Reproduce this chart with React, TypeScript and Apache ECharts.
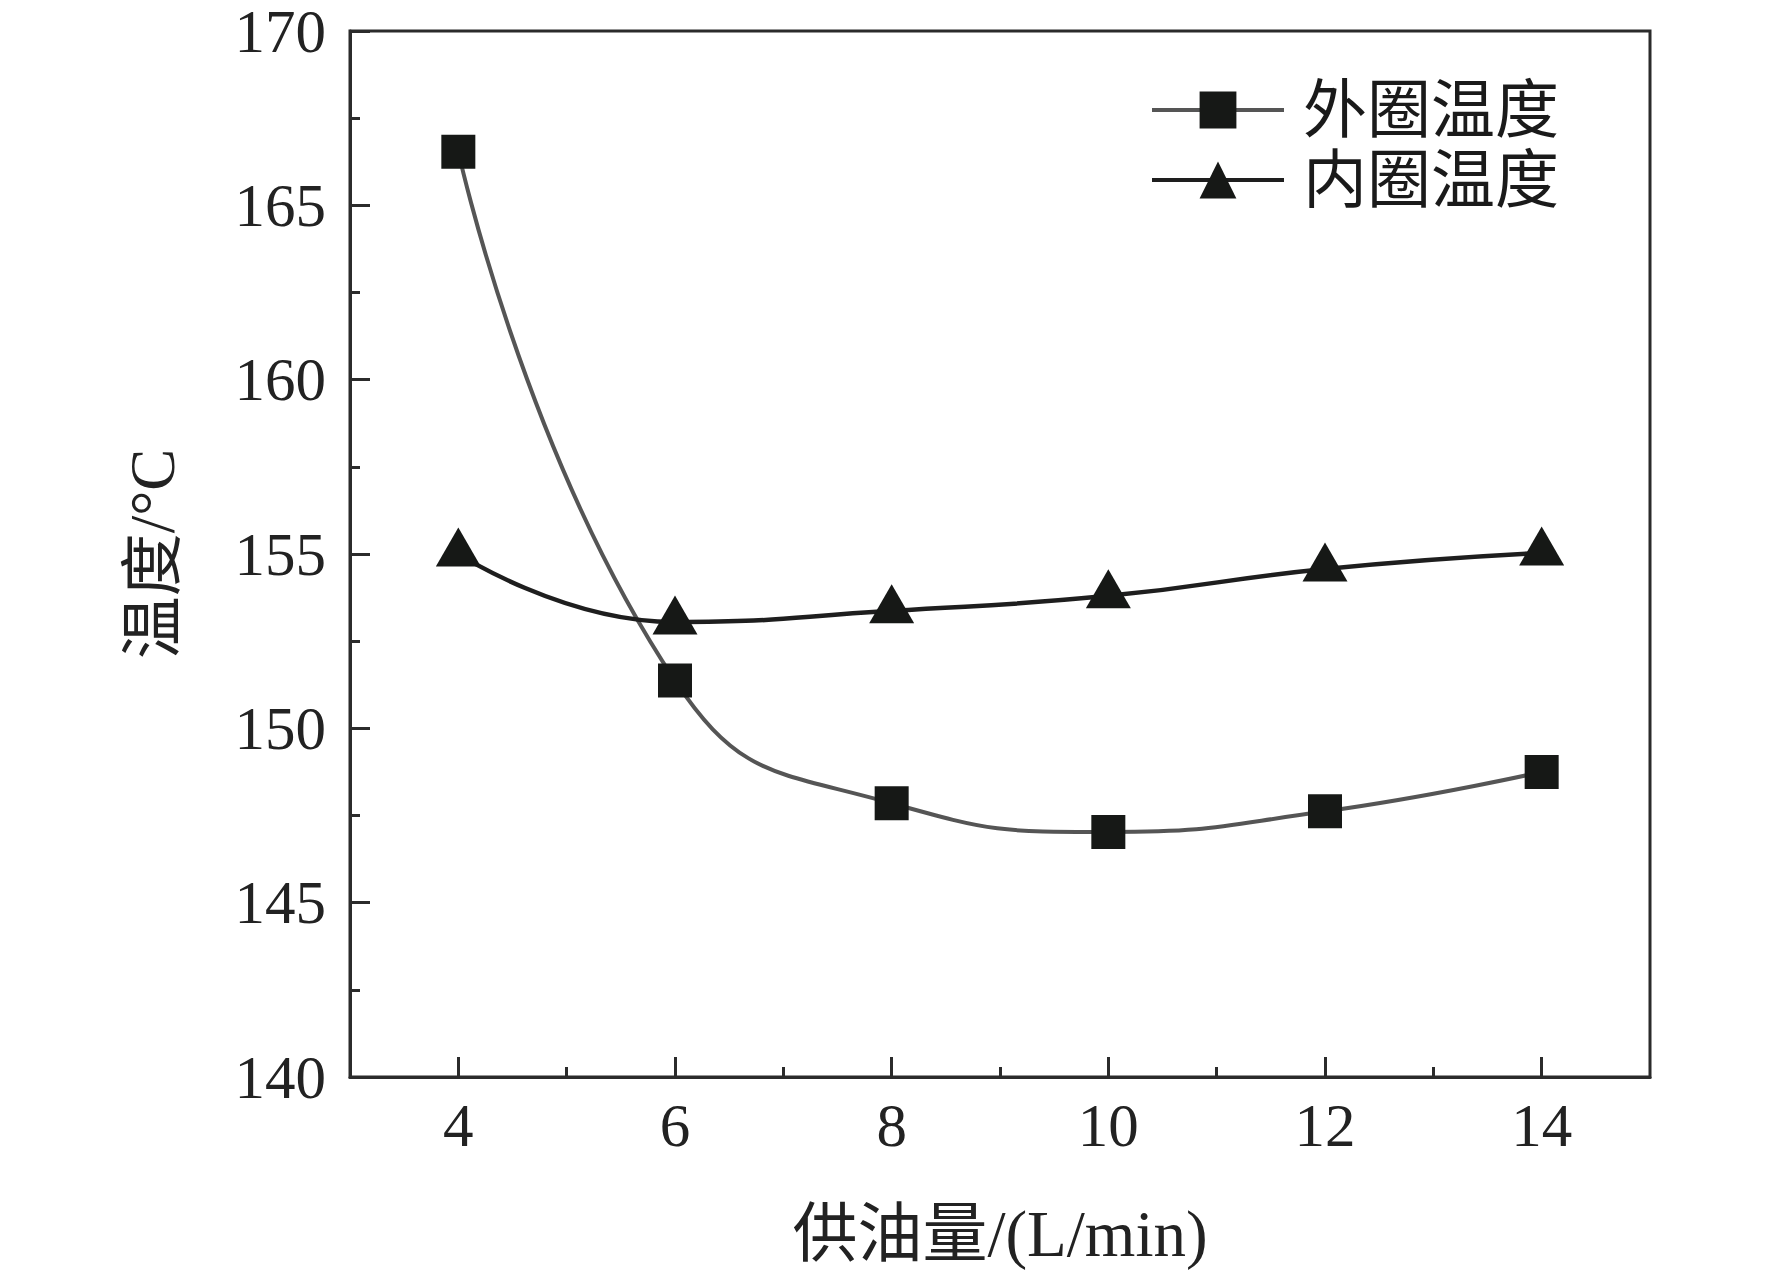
import React, { useEffect, useRef } from "react";
import * as echarts from "echarts";

const xValues = [4, 6, 8, 10, 12, 14];
const outerTemp = [166.54, 151.37, 147.85, 147.03, 147.62, 148.75];
const innerTemp = [155.0, 153.05, 153.37, 153.8, 154.57, 155.03];
const xMajorTicks = [4, 6, 8, 10, 12, 14];
const xMinorTicks = [5, 7, 9, 11, 13];
const seriesNames = ["外圈温度", "内圈温度"];
const xTitle = "供油量/(L/min)";
const yTitle = "温度/°C";

const FONT = "'Liberation Serif', 'Times New Roman', 'Noto Sans CJK SC', serif";
const AXIS_COLOR = "#2b2b2b";

export default function App() {
  const ref = useRef<HTMLDivElement>(null);
  useEffect(() => {
    if (!ref.current) return;
    const chart = echarts.init(ref.current, null, { renderer: "svg" });
    const axisLine = { show: true, onZero: false, lineStyle: { color: AXIS_COLOR, width: 3 } };
    chart.setOption({
      animation: false,
      backgroundColor: "#ffffff",
      grid: {
        left: 350,
        right: 122,
        top: 31,
        bottom: 202,
        show: true,
        borderColor: AXIS_COLOR,
        borderWidth: 3,
        backgroundColor: "transparent",
      },
      legend: {
        left: 1145,
        top: 70,
        orient: "vertical",
        itemWidth: 132,
        itemHeight: 46,
        itemGap: 0,
        lineStyle: { width: 4 },
        textStyle: {
          fontFamily: FONT,
          fontSize: 64,
          color: "#1a1a1a",
          lineHeight: 70,
          padding: [0, 0, 0, 14],
        },
        data: seriesNames,
      },
      xAxis: [
        {
          type: "value",
          min: 3,
          max: 15,
          position: "bottom",
          axisLine,
          axisTick: {
            show: true,
            inside: true,
            length: 20,
            customValues: xMajorTicks,
            lineStyle: { color: AXIS_COLOR, width: 3 },
          },
          axisLabel: {
            customValues: xMajorTicks,
            margin: 20,
            fontFamily: FONT,
            fontSize: 61,
            lineHeight: 56,
            color: "#222",
          },
          splitLine: { show: false },
          name: xTitle,
          nameLocation: "middle",
          nameGap: 124,
          nameTextStyle: { fontFamily: FONT, fontSize: 65, color: "#222" },
        },
        {
          type: "value",
          min: 3,
          max: 15,
          position: "bottom",
          axisLine: { show: false },
          axisTick: {
            show: true,
            inside: true,
            length: 10,
            customValues: xMinorTicks,
            lineStyle: { color: AXIS_COLOR, width: 3 },
          },
          axisLabel: { show: false },
          splitLine: { show: false },
        },
      ],
      yAxis: [
        {
          type: "value",
          min: 140,
          max: 170,
          interval: 5,
          position: "left",
          axisLine,
          axisTick: {
            show: true,
            inside: true,
            length: 20,
            lineStyle: { color: AXIS_COLOR, width: 3 },
          },
          axisLabel: {
            margin: 24,
            fontFamily: FONT,
            fontSize: 61,
            lineHeight: 56,
            color: "#222",
          },
          splitLine: { show: false },
          name: yTitle,
          nameLocation: "middle",
          nameRotate: 90,
          nameGap: 166,
          nameTextStyle: { fontFamily: FONT, fontSize: 63, color: "#222" },
        },
        {
          type: "value",
          min: 140,
          max: 170,
          interval: 2.5,
          position: "left",
          axisLine: { show: false },
          axisTick: {
            show: true,
            inside: true,
            length: 10,
            lineStyle: { color: AXIS_COLOR, width: 3 },
          },
          axisLabel: { show: false },
          splitLine: { show: false },
        },
      ],
      series: [
        {
          name: seriesNames[0],
          type: "line",
          xAxisIndex: 0,
          yAxisIndex: 0,
          smooth: 0.5,
          data: xValues.map((x, i) => [x, outerTemp[i]]),
          symbol: "rect",
          symbolSize: 34,
          itemStyle: { color: "#161816" },
          lineStyle: { color: "#555555", width: 4 },
          z: 3,
        },
        {
          name: seriesNames[1],
          type: "line",
          xAxisIndex: 0,
          yAxisIndex: 0,
          smooth: 0.5,
          data: xValues.map((x, i) => [x, innerTemp[i]]),
          symbol: "triangle",
          symbolSize: [45, 39],
          symbolOffset: [0, -7],
          itemStyle: { color: "#161816" },
          lineStyle: { color: "#1e1e1e", width: 4.5 },
          z: 4,
        },
      ],
    });
    return () => chart.dispose();
  }, []);
  return (
    <div
      ref={ref}
      style={{ position: "absolute", left: 0, top: 0, width: 1772, height: 1279, background: "#fff" }}
    />
  );
}
